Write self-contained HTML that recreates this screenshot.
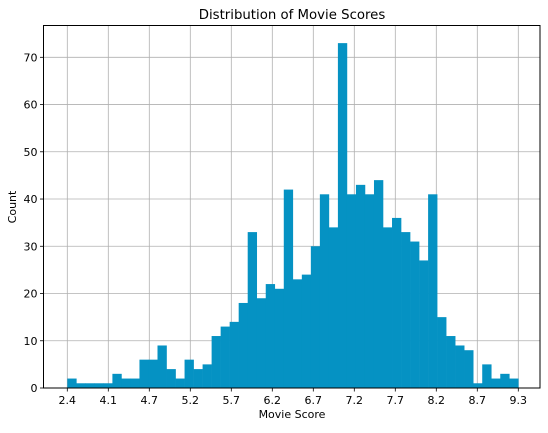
<!DOCTYPE html>
<html><head><meta charset="utf-8"><style>
body{margin:0;background:#fff;}
svg text{font-family:"DejaVu Sans","Liberation Sans",sans-serif;fill:#000;}
</style></head><body>
<svg id="chart" width="548" height="428" xmlns="http://www.w3.org/2000/svg">
<rect width="548" height="428" fill="#fff"/>
<g id="grid"></g>
<g id="bars"></g>
<g id="axes"></g>
<text x="292" y="19" font-size="13.3" text-anchor="middle">Distribution of Movie Scores</text>
<text x="292" y="418" font-size="11" text-anchor="middle">Movie Score</text>
<text x="16" y="207" font-size="11" text-anchor="middle" transform="rotate(-90 16 207)">Count</text>
</svg>
<script>
const counts = [2,1,1,1,1,3,2,2,6,6,9,4,2,6,4,5,11,13,14,18,33,19,22,21,42,23,24,30,41,34,73,41,43,41,44,34,36,33,31,27,41,15,11,9,8,1,5,2,3,2];
const xTickLabels = ["2.4","4.1","4.7","5.2","5.7","6.2","6.7","7.2","7.7","8.2","8.7","9.3"];
const yTicks = [0,10,20,30,40,50,60,70];

const NS="http://www.w3.org/2000/svg";
const L=43.5,R=540,T=25.5,B=388;
const x0=67.3,x1=518.3;
function xBin(i){return x0+(x1-x0)*i/counts.length;}
function xTick(i){return x0+(x1-x0)*i/(xTickLabels.length-1);}
function yS(v){return B-(B-57.3)*v/70;}
function mk(tag,attrs,parent){const e=document.createElementNS(NS,tag);for(const k in attrs)e.setAttribute(k,attrs[k]);parent.appendChild(e);return e;}
const grid=document.getElementById('grid'),bars=document.getElementById('bars'),axes=document.getElementById('axes');
xTickLabels.forEach((lab,i)=>{
  const x=xTick(i);
  const g=mk('line',{x1:x,x2:x,y1:T,y2:B,stroke:'#b0b0b0','stroke-width':0.8},grid);
  
  
  mk('line',{x1:x,x2:x,y1:B,y2:B+3.5,stroke:'#000','stroke-width':0.8},axes);
  const t=mk('text',{x:x,y:B+16,'font-size':11,'text-anchor':'middle'},axes);
  t.textContent=lab;
  
  
});
yTicks.forEach(v=>{
  const y=yS(v);
  const g=mk('line',{x1:L,x2:R,y1:y,y2:y,stroke:'#b0b0b0','stroke-width':0.8},grid);
  
  
  mk('line',{x1:L-3.5,x2:L,y1:y,y2:y,stroke:'#000','stroke-width':0.8},axes);
  const t=mk('text',{x:L-6,y:y+4,'font-size':11,'text-anchor':'end'},axes);
  t.textContent=v;
  
  
});
counts.forEach((c,i)=>{
  const xa=xBin(i),xb=xBin(i+1),y=yS(c);
  const r=mk('rect',{x:xa,y:y,width:xb-xa+0.3,height:B-y,fill:'#0592c3'},bars);
  
  
});
const f=mk('rect',{x:L,y:T,width:R-L,height:B-T,fill:'none',stroke:'#000','stroke-width':1},axes);


</script>
</body></html>
